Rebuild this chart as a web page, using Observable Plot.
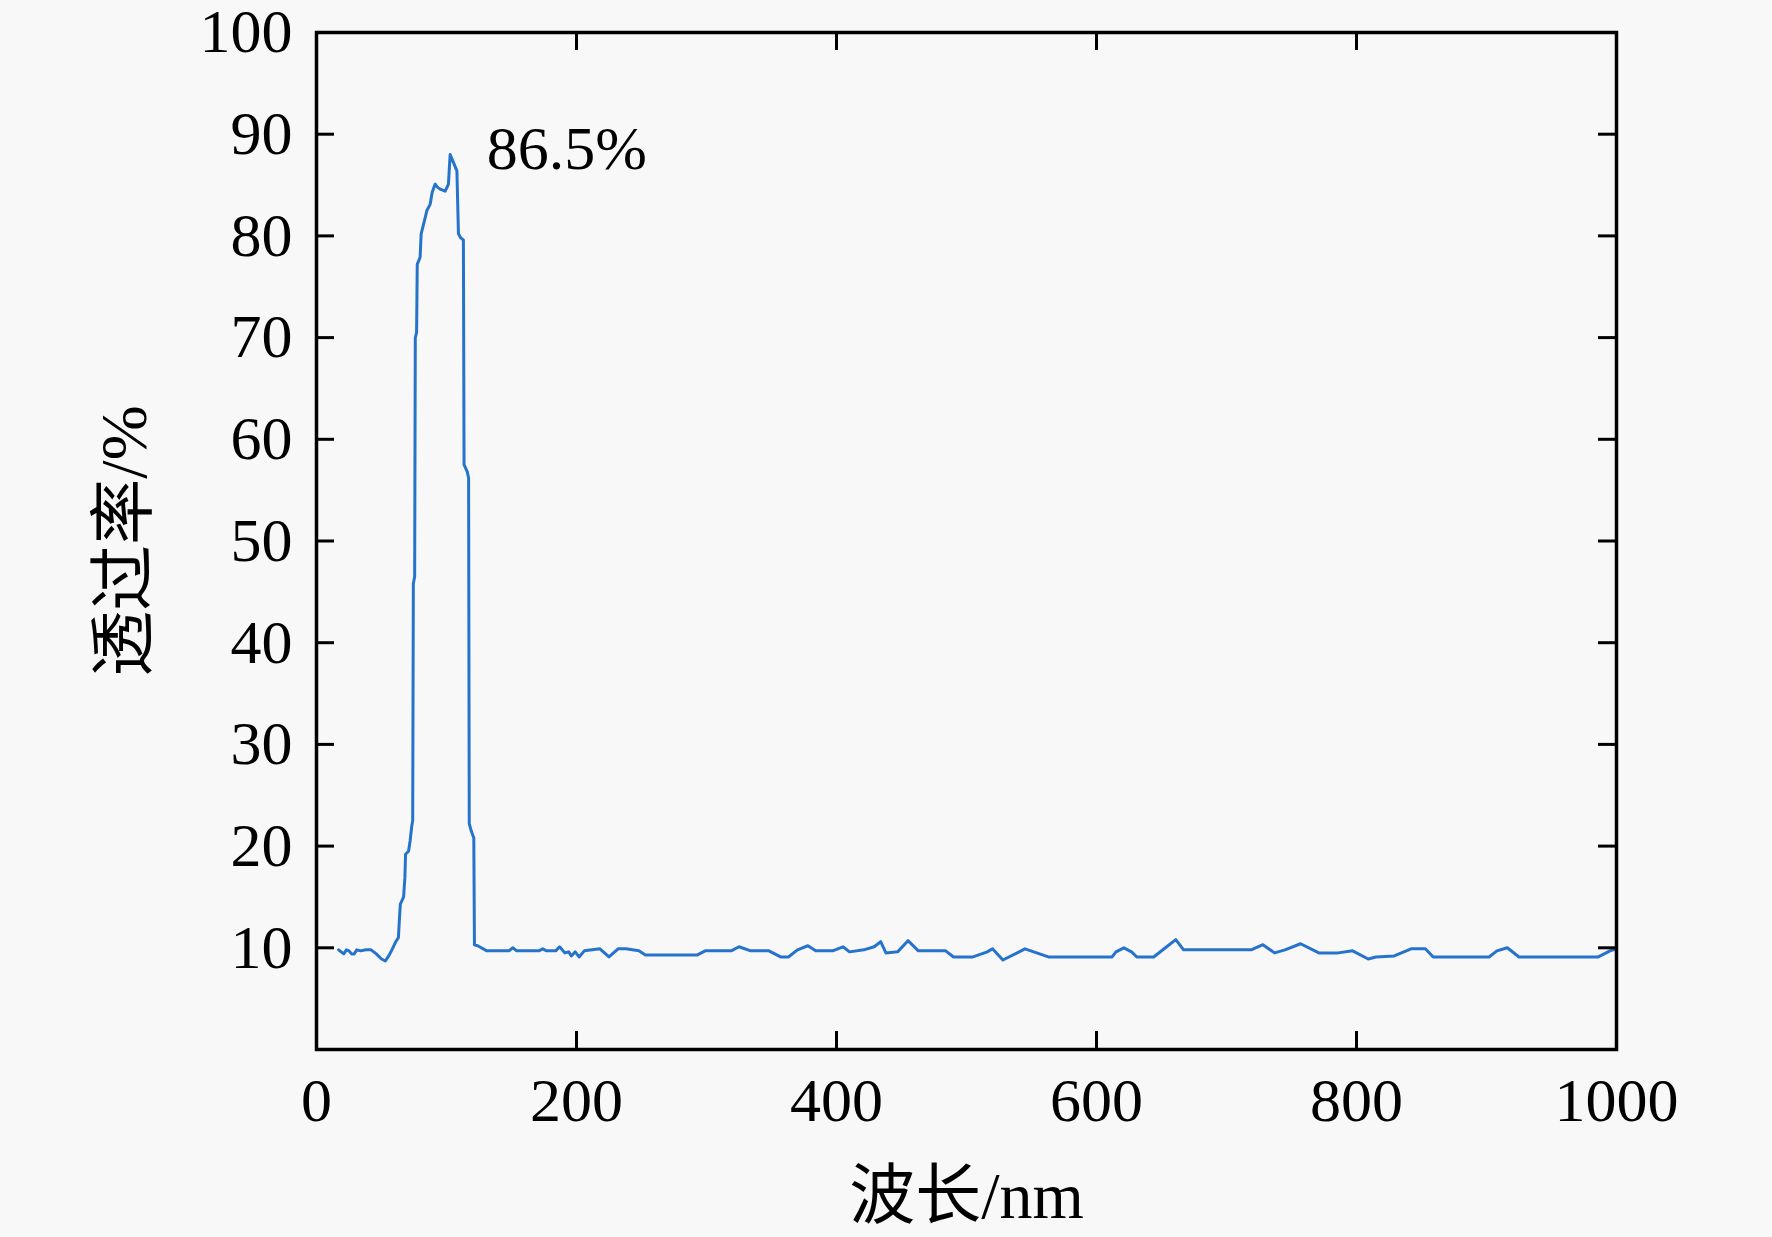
<!DOCTYPE html>
<html>
<head>
<meta charset="utf-8">
<script src="https://cdn.jsdelivr.net/npm/d3@7"></script>
<script src="https://cdn.jsdelivr.net/npm/@observablehq/plot@0.6"></script>
<style>
  html, body { margin: 0; padding: 0; background: #f8f8f8; }
  #chart { width: 1772px; height: 1237px; }
</style>
</head>
<body>
<div id="chart"></div>
<script>
// wavelength (nm)
const wavelength = [
  17, 19, 21, 23, 25, 27, 29, 31, 34, 38, 42, 46, 50, 53, 56, 58, 61, 63, 64, 64.5,
  67, 68, 68.5, 70.8, 72, 73.3, 74, 74.5, 75.5, 76, 77, 77.5, 79.7, 80.5, 83.6, 84.9,
  87.4, 89, 91.3, 93, 95.1, 99, 101.5, 102.8, 105.4, 108, 109.2, 111, 113, 113.5, 116,
  117, 117.5, 119, 121, 121.5, 124, 131, 148, 151, 154, 171, 174, 177, 184, 187, 191,
  194, 196, 199, 202, 206, 212, 218, 225, 232, 238, 248, 253, 293, 299, 319, 325, 334,
  348, 357, 363, 370, 378, 384, 397, 405, 410, 421, 429, 434, 438, 447, 455, 463, 484,
  490, 505, 516, 520, 528, 539, 545, 554, 563, 612, 615, 621, 627, 631, 644, 653, 661,
  667, 719, 728, 737, 745, 757, 771, 786, 797, 809, 815, 829, 842, 853, 859, 902, 908,
  916, 925, 986, 995, 1000
];
// transmittance (%)
const transmittance = [
  9.8, 9.6, 9.4, 9.8, 9.7, 9.4, 9.4, 9.8, 9.7, 9.8, 9.8, 9.4, 8.9, 8.7, 9.3, 9.8, 10.6, 11.0, 13.3, 14.3,
  15.0, 16.9, 19.2, 19.5, 20.5, 22.0, 22.5, 45.8, 46.5, 70.0, 70.5, 77.2, 77.9, 80.2, 81.8, 82.5,
  83.1, 84.3, 85.1, 84.8, 84.6, 84.4, 85.1, 88.0, 87.2, 86.4, 80.2, 79.8, 79.6, 57.5, 56.8,
  56.2, 22.2, 21.5, 20.8, 10.3, 10.2, 9.7, 9.7, 10.0, 9.7, 9.7, 9.9, 9.7, 9.7, 10.1, 9.5,
  9.6, 9.2, 9.6, 9.1, 9.7, 9.8, 9.9, 9.1, 9.9, 9.9, 9.7, 9.3, 9.3, 9.7, 9.7, 10.1, 9.7,
  9.7, 9.1, 9.1, 9.8, 10.2, 9.7, 9.7, 10.1, 9.6, 9.8, 10.1, 10.6, 9.5, 9.6, 10.7, 9.7, 9.7,
  9.1, 9.1, 9.6, 9.9, 8.8, 9.5, 9.9, 9.5, 9.1, 9.1, 9.6, 10.0, 9.6, 9.1, 9.1, 10.0, 10.8,
  9.8, 9.8, 10.3, 9.5, 9.8, 10.4, 9.5, 9.5, 9.7, 8.9, 9.1, 9.2, 9.9, 9.9, 9.1, 9.1, 9.7,
  10.0, 9.1, 9.1, 9.7, 9.9
];
const xTicks = [0, 200, 400, 600, 800, 1000];
const yTicks = [10, 20, 30, 40, 50, 60, 70, 80, 90, 100];
const xLabel = "波长/nm";
const yLabel = "透过率/%";
const annotationText = ["86.5%"];
const annotationX = [131];
const annotationY = [86.6];

const data = wavelength.map((w, i) => ({w, t: transmittance[i]}));
const notes = annotationText.map((s, i) => ({s, x: annotationX[i], y: annotationY[i]}));
const innerX = xTicks.filter(d => d > 0 && d < 1000);
const innerY = yTicks.filter(d => d > 0 && d < 100);

const font = "'Liberation Serif', 'Times New Roman', 'Noto Sans CJK SC', serif";
const tickLenY = 1.77;   // in y units (~18px)
const tickLenX = 13.85;  // in x units (~18px)

const chart = Plot.plot({
  width: 1772,
  height: 1237,
  marginLeft: 316,
  marginRight: 156,
  marginTop: 32,
  marginBottom: 188,
  style: {background: "#f8f8f8", fontFamily: font, color: "black", overflow: "visible"},
  x: {domain: [0, 1000]},
  y: {domain: [0, 100]},
  marks: [
    Plot.line(data, {x: "w", y: "t", stroke: "#2673cc", strokeWidth: 3, curve: "linear"}),
    // inward ticks
    Plot.ruleX(innerX, {x: d => d, y1: 0, y2: tickLenY, stroke: "black", strokeWidth: 3}),
    Plot.ruleX(innerX, {x: d => d, y1: 100 - tickLenY, y2: 100, stroke: "black", strokeWidth: 3}),
    Plot.ruleY(innerY, {y: d => d, x1: 0, x2: tickLenX, stroke: "black", strokeWidth: 3}),
    Plot.ruleY(innerY, {y: d => d, x1: 1000 - tickLenX, x2: 1000, stroke: "black", strokeWidth: 3}),
    Plot.frame({stroke: "black", strokeWidth: 3.5}),
    Plot.axisX({ticks: xTicks, tickSize: 0, tickPadding: 27, fontSize: 62, label: null, tickFormat: d => String(d)}),
    Plot.axisY({ticks: yTicks, tickSize: 0, tickPadding: 24, fontSize: 62, label: null, tickFormat: d => String(d)}),
    Plot.text(notes, {x: "x", y: "y", text: "s", textAnchor: "start", lineAnchor: "bottom", fontSize: 62, fill: "black"}),
    Plot.text([xLabel], {frameAnchor: "bottom", textAnchor: "middle", dy: 168, fontSize: 66, fill: "black"}),
    Plot.text([yLabel], {frameAnchor: "left", textAnchor: "middle", dx: -192, rotate: -90, fontSize: 66, fill: "black"})
  ]
});
document.getElementById("chart").appendChild(chart);
</script>
</body>
</html>
